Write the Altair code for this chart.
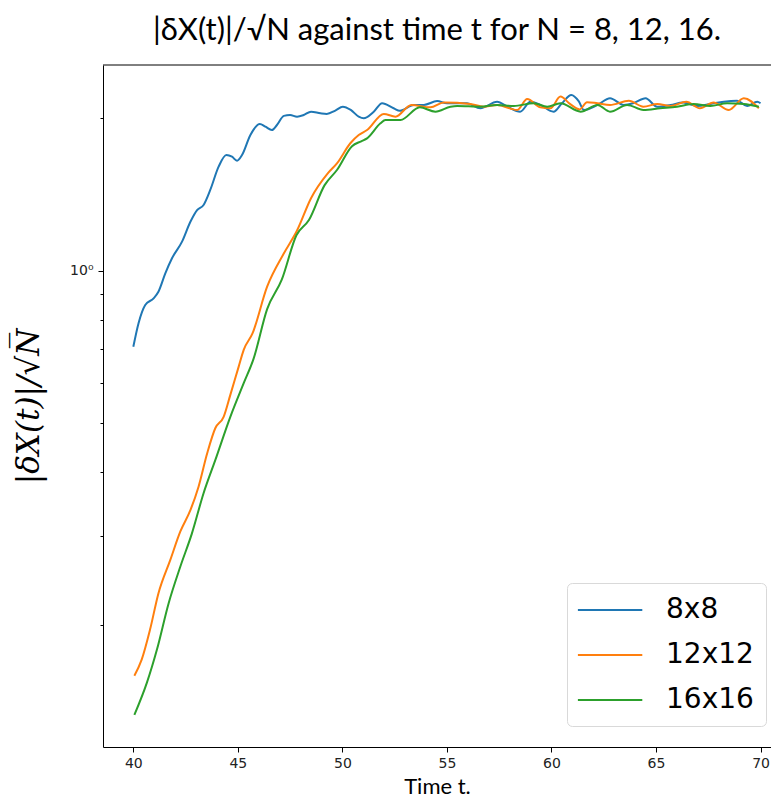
import altair as alt
import pandas as pd

series_names = ["8x8", "12x12", "16x16"]
series_colors = ["#1f77b4", "#ff7f0e", "#2ca02c"]

t_8 = [40.0, 40.25, 40.57, 40.97, 41.2, 41.53, 41.85, 42.33, 42.73, 43.05,
       43.36, 43.68, 44.08, 44.45, 44.72, 44.96, 45.2, 45.6, 46.05, 46.32,
       46.63, 46.87, 47.2, 47.5, 47.83, 48.15, 48.5, 48.95, 49.25, 49.66,
       50.02, 50.4, 50.78, 51.02, 51.5, 51.9, 52.45, 52.75, 53.41, 53.9,
       54.53, 55.0, 55.96, 56.6, 57.4, 57.9, 58.5, 59.0, 59.47, 60.1,
       60.5, 60.95, 61.3, 61.55, 62.2, 62.8, 63.46, 63.9, 64.5, 65.06,
       65.7, 66.3, 66.97, 67.6, 68.24, 68.88, 69.36, 69.84, 70.0]
v_8 = [0.708, 0.788, 0.856, 0.882, 0.909, 0.988, 1.058, 1.141, 1.249, 1.317,
       1.348, 1.443, 1.604, 1.691, 1.678, 1.648, 1.691, 1.852, 1.947, 1.923,
       1.894, 1.938, 2.02, 2.028, 2.013, 2.028, 2.059, 2.044, 2.038, 2.069,
       2.106, 2.075, 2.013, 1.998, 2.059, 2.14, 2.091, 2.067, 2.123, 2.123,
       2.16, 2.139, 2.139, 2.091, 2.154, 2.106, 2.059, 2.154, 2.123, 2.059,
       2.139, 2.221, 2.16, 2.075, 2.123, 2.188, 2.123, 2.139, 2.188, 2.106,
       2.123, 2.146, 2.113, 2.132, 2.154, 2.163, 2.113, 2.154, 2.139]

t_12 = [40.05, 40.4, 40.8, 41.2, 41.77, 42.25, 42.73, 43.12, 43.53, 43.92,
        44.32, 44.64, 45.04, 45.28, 45.7, 46.4, 47.19, 47.83, 48.5, 49.3,
        49.74, 50.38, 50.78, 51.18, 51.98, 52.54, 53.3, 54.21, 54.85, 56.12,
        56.76, 57.4, 58.36, 58.84, 59.47, 59.95, 60.43, 60.9, 61.35, 61.7,
        62.2, 62.8, 63.7, 64.4, 65.06, 65.7, 66.45, 67.1, 67.75, 68.48,
        69.2, 69.92]
v_12 = [0.159, 0.171, 0.196, 0.231, 0.269, 0.306, 0.337, 0.375, 0.436, 0.489,
        0.515, 0.569, 0.647, 0.698, 0.752, 0.930, 1.08, 1.2, 1.39, 1.556,
        1.628, 1.784, 1.852, 1.894, 2.038, 2.013, 2.123, 2.10, 2.146, 2.132,
        2.106, 2.123, 2.075, 2.18, 2.10, 2.091, 2.205, 2.13, 2.08, 2.15,
        2.139, 2.123, 2.163, 2.106, 2.132, 2.113, 2.154, 2.091, 2.146, 2.075,
        2.188, 2.091]

t_16 = [40.05, 40.65, 41.13, 41.69, 42.25, 42.8, 43.36, 43.92, 44.64, 45.28,
        45.75, 46.4, 47.1, 47.8, 48.4, 49.15, 49.74, 50.46, 50.9, 51.18,
        51.82, 52.06, 52.78, 53.7, 54.45, 55.17, 55.49, 56.6, 57.4, 58.2,
        59.15, 59.8, 60.43, 61.39, 62.2, 62.8, 63.62, 64.4, 65.2, 66.0,
        66.8, 67.6, 68.4, 69.2, 69.92]
v_16 = [0.133, 0.154, 0.179, 0.221, 0.261, 0.303, 0.364, 0.423, 0.515, 0.600,
        0.67, 0.84, 0.96, 1.175, 1.259, 1.475, 1.58, 1.76, 1.80, 1.824,
        1.953, 1.983, 1.983, 2.10, 2.059, 2.106, 2.113, 2.106, 2.123, 2.113,
        2.139, 2.106, 2.139, 2.059, 2.123, 2.059, 2.123, 2.075, 2.091, 2.106,
        2.132, 2.113, 2.139, 2.132, 2.106]

x_ticks = [40, 45, 50, 55, 60, 65, 70]
y_ticks = [0.2, 0.3, 0.4, 0.5, 0.6, 0.7, 0.8, 0.9, 1, 2]

rows = []
for name, ts, vs in zip(series_names, [t_8, t_12, t_16], [v_8, v_12, v_16]):
    for t, v in zip(ts, vs):
        rows.append({"t": t, "v": v, "size": name})
df = pd.DataFrame(rows)

W, H = 668, 682

lines = alt.Chart(df).mark_line(strokeWidth=2, interpolate="monotone", clip=True).encode(
    x=alt.X("t:Q",
            scale=alt.Scale(domain=[38.55, 70.5], nice=False, zero=False),
            axis=alt.Axis(values=x_ticks, title="Time t.", grid=False,
                          tickSize=5, tickColor="black", domainColor="black",
                          labelFont="DejaVu Sans", labelFontSize=14, labelColor="#222",
                          labelPadding=4, titleFont="Lato", titleFontSize=22,
                          titleFontWeight="normal", titleColor="black", titlePadding=6)),
    y=alt.Y("v:Q",
            scale=alt.Scale(type="log", domain=[0.115, 2.545], nice=False),
            axis=alt.Axis(values=y_ticks,
                          labelExpr="datum.value == 1 ? '10⁰' : ''",
                          tickSize={"condition": {"test": "datum.value == 1", "value": 5}, "value": 3},
                          tickColor="black", domainColor="black", grid=False,
                          labelFont="DejaVu Sans", labelFontSize=14, labelColor="#222",
                          labelPadding=5,
                          title="|δX(t)|/√N̅", titleFont="DejaVu Serif",
                          titleFontStyle="italic", titleFontSize=31,
                          titleFontWeight="normal", titleColor="black", titlePadding=24)),
    color=alt.Color("size:N",
                    scale=alt.Scale(domain=series_names, range=series_colors),
                    legend=alt.Legend(title=None, orient="none", legendX=464, legendY=518,
                                      symbolType="M-1.15,0L3.45,0", symbolSize=784,
                                      symbolStrokeWidth=2, labelFont="DejaVu Sans",
                                      labelFontSize=28, labelColor="black",
                                      labelOffset=57, rowPadding=16, padding=12,
                                      strokeColor="#d9d9d9", fillColor="white",
                                      cornerRadius=5)),
)

frame_top = alt.Chart(pd.DataFrame({"a": [0]})).mark_rule(color="black", strokeWidth=1).encode(
    x=alt.value(0), x2=alt.value(W), y=alt.value(0)
)

chart = alt.layer(lines, frame_top).properties(
    width=W, height=H,
    title=alt.TitleParams("|δX(t)|/√N   against time t for N = 8, 12, 16.",
                          font="Lato", fontSize=31, fontWeight="normal",
                          color="black", anchor="middle", offset=18),
    autosize=alt.AutoSizeParams(type="none"),
    padding={"left": 95, "top": 57, "right": 0, "bottom": 53},
).configure_view(stroke=None)

chart.save("out.html", embed_options={"renderer": "svg", "actions": False})
